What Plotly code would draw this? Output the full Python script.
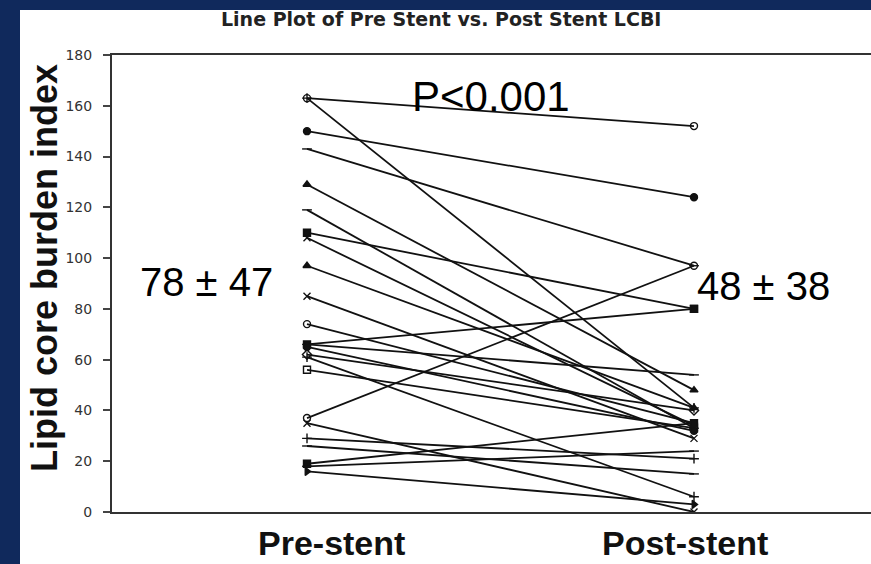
import plotly.graph_objects as go

categories = ["Pre-stent", "Post-stent"]
pre_values = [163, 163, 150, 143, 129, 119, 110, 108, 97, 85, 74, 66, 66, 65, 62, 61, 56, 37, 35, 29, 26, 19, 18, 16]
post_values = [152, 41, 124, 97, 48, 33, 80, 34, 41, 29, 35, 80, 54, 32, 40, 6, 33, 97, 0, 21, 15, 35, 24, 3]
symbols = ["circle-open", "cross-thin", "circle", "line-ew", "triangle-up", "line-ew", "square", "x-thin",
           "triangle-up", "x-thin", "circle-open", "square", "line-ew", "circle", "diamond-open", "cross-thin",
           "square-open", "circle-open", "x-thin", "cross-thin", "line-ew", "square", "line-ew", "triangle-right"]
y_ticks = [0, 20, 40, 60, 80, 100, 120, 140, 160, 180]

W, H = 871, 564
L, R, T, B = 112, 0, 55, 52
pw, ph = W - L - R, H - T - B

fig = go.Figure()
xpos = [0, 1]
for i, (a, b) in enumerate(zip(pre_values, post_values)):
    fig.add_trace(go.Scatter(
        x=xpos, y=[a, b], mode="lines+markers",
        line=dict(color="#111111", width=1.8),
        marker=dict(symbol=symbols[i % len(symbols)], size=7, color="#111111",
                    line=dict(color="#111111", width=1.4)),
        showlegend=False, hoverinfo="skip"))

xmin = -(307 - L) / 387
xmax = xmin + pw / 387

def px_x(p):
    return (p - L) / pw

def px_y(p):
    return (H - B - p) / ph

fig.add_shape(type="rect", xref="paper", yref="paper",
              x0=px_x(20), x1=px_x(W + 5), y0=px_y(H + 5), y1=px_y(10),
              fillcolor="white", line=dict(width=0), layer="below")

def ann(text, x, y, size, family="Liberation Sans", color="#000000", angle=0):
    return dict(text=text, xref="paper", yref="paper", x=px_x(x), y=px_y(y),
                xanchor="center", yanchor="middle", textangle=angle, showarrow=False,
                font=dict(family=family, size=size, color=color))

fig.update_layout(
    width=W, height=H,
    margin=dict(l=L, r=R, t=T, b=B, pad=0),
    paper_bgcolor="#10295c", plot_bgcolor="white",
    xaxis=dict(range=[xmin, xmax], showgrid=False, zeroline=False, showticklabels=False,
               ticks="", showline=True, linecolor="#333333", linewidth=2, mirror=True),
    yaxis=dict(range=[0, 180], tickvals=y_ticks, showgrid=False, zeroline=False,
               ticks="outside", ticklen=7, tickcolor="#444444", tickwidth=1.5,
               ticklabelstandoff=8,
               showline=True, linecolor="#333333", linewidth=2,
               tickfont=dict(family="DejaVu Sans", size=14, color="#333333")),
    annotations=[
        ann("<b>Line Plot of Pre Stent vs. Post Stent LCBI</b>", 441, 19, 19, "DejaVu Sans", "#222222"),
        ann("<b>Lipid core burden index</b>", 44, 268, 36, color="#111111", angle=-90),
        ann("<b>" + categories[0] + "</b>", 331, 543, 34, color="#111111"),
        ann("<b>" + categories[1] + "</b>", 685, 543, 34, color="#111111"),
        ann("P<0.001", 491, 96, 42),
        ann("78 ± 47", 206, 282, 40),
        ann("48 ± 38", 763, 286, 40),
    ],
)

fig.write_html("out.html", config={"displayModeBar": False},
               post_script="document.body.style.margin='0';document.body.style.overflow='hidden';")
